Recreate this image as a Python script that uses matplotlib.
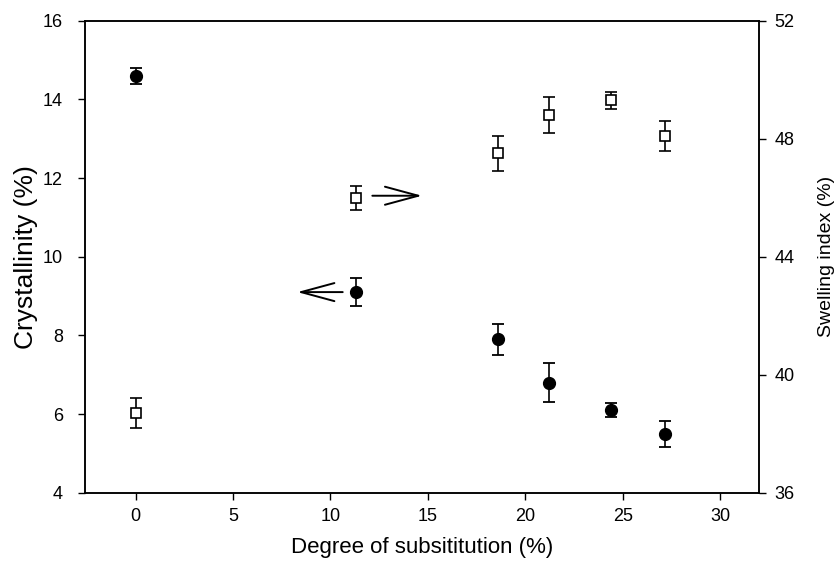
import matplotlib
matplotlib.use("Agg")
import matplotlib.pyplot as plt

# Data
dos = [0, 11.3, 18.6, 21.2, 24.4, 27.2]
crystallinity = [14.6, 9.1, 7.9, 6.8, 6.1, 5.5]
crystallinity_err = [0.2, 0.35, 0.4, 0.5, 0.18, 0.33]
swelling = [38.7, 46.0, 47.5, 48.8, 49.3, 48.1]
swelling_err = [0.5, 0.4, 0.6, 0.6, 0.3, 0.5]

x_ticks = [0, 5, 10, 15, 20, 25, 30]
left_ticks = [4, 6, 8, 10, 12, 14, 16]
right_ticks = [36, 40, 44, 48, 52]

plt.rcParams['font.family'] = ['Liberation Sans', 'DejaVu Sans']

fig = plt.figure(figsize=(8.37, 5.72), dpi=100)
ax = fig.add_axes([85 / 837, 1 - 492.7 / 572, (759 - 85) / 837, (492.7 - 20.7) / 572])
ax2 = ax.twinx()

ax.errorbar(dos, crystallinity, yerr=crystallinity_err, fmt='o', color='black',
            markersize=8.5, capsize=4, capthick=1.3, elinewidth=1.2, zorder=3)
ax2.errorbar(dos, swelling, yerr=swelling_err, fmt='s', color='black',
             markerfacecolor='white', markeredgecolor='black', markeredgewidth=1.2,
             markersize=7.5, capsize=4, capthick=1.3, elinewidth=1.2, zorder=3)

ax.set_xlim(-2.6, 32)
ax.set_ylim(4, 16)
ax2.set_ylim(36, 52)
ax.set_xticks(x_ticks)
ax.set_yticks(left_ticks)
ax2.set_yticks(right_ticks)

ax.set_xlabel('Degree of subsititution (%)', fontsize=16, labelpad=9)
ax.set_ylabel('Crystallinity (%)', fontsize=19, labelpad=3)
ax2.set_ylabel('Swelling index (%)', fontsize=14, labelpad=17)

ax.tick_params(axis='x', direction='out', length=5, width=1, labelsize=13, pad=6)
ax.tick_params(axis='y', direction='out', length=5, width=1, labelsize=13, pad=11)
ax2.tick_params(axis='y', direction='out', length=5, width=1, labelsize=13, pad=6)
for a in (ax, ax2):
    for s in a.spines.values():
        s.set_linewidth(1.1)

# Arrows pointing to the respective axes
ax.annotate('', xy=(14.7, 11.55), xytext=(12.15, 11.55),
            arrowprops=dict(arrowstyle='->,head_length=24,head_width=6.5',
                            mutation_scale=1, lw=1.4, color='black',
                            shrinkA=0, shrinkB=0))
ax.annotate('', xy=(8.3, 9.1), xytext=(10.63, 9.1),
            arrowprops=dict(arrowstyle='->,head_length=24,head_width=6.5',
                            mutation_scale=1, lw=1.4, color='black',
                            shrinkA=0, shrinkB=0))

fig.savefig('out.png', dpi=100)
